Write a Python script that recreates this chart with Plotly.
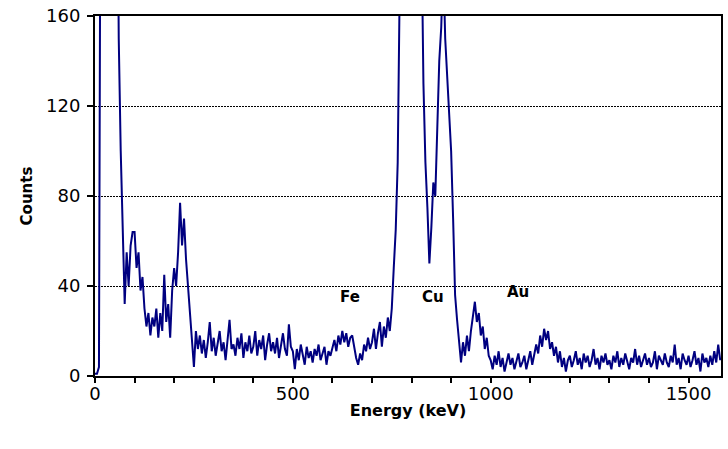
import plotly.graph_objects as go

# Energy step of the spectrum (keV per channel)
step_kev = 5

seg_0000 = [1, 1, 4, 300, 900, 1500, 1800, 1500, 1000, 600]
seg_0050 = [400, 250, 150, 100, 60, 32, 55, 40, 58, 64]
seg_0100 = [64, 48, 55, 38, 44, 30, 22, 28, 18, 26]
seg_0150 = [22, 30, 17, 28, 20, 45, 24, 32, 17, 38]
seg_0200 = [48, 40, 55, 77, 58, 70, 52, 40, 26, 18]
seg_0250 = [4, 20, 12, 18, 10, 16, 8, 15, 24, 11]
seg_0300 = [17, 9, 14, 20, 11, 15, 7, 18, 25, 12]
seg_0350 = [14, 9, 17, 12, 19, 8, 15, 11, 18, 10]
seg_0400 = [13, 20, 9, 16, 12, 18, 7, 14, 19, 11]
seg_0450 = [15, 10, 17, 8, 14, 19, 12, 9, 23, 13]
seg_0500 = [11, 3, 12, 7, 14, 9, 5, 13, 8, 11]
seg_0550 = [6, 12, 9, 14, 7, 10, 13, 5, 11, 9]
seg_0600 = [12, 16, 11, 18, 14, 20, 15, 19, 13, 17]
seg_0650 = [18, 12, 8, 5, 10, 7, 14, 11, 17, 12]
seg_0700 = [15, 21, 12, 19, 24, 13, 22, 17, 26, 20]
seg_0750 = [30, 48, 65, 95, 130, 250, 500, 900, 1200, 1400]
seg_0800 = [1500, 1300, 1000, 600, 350, 200, 130, 95, 75, 50]
seg_0850 = [66, 86, 80, 112, 140, 155, 185, 150, 132, 116]
seg_0900 = [100, 70, 36, 25, 14, 6, 15, 9, 18, 11]
seg_0950 = [20, 26, 33, 24, 28, 18, 22, 12, 17, 9]
seg_1000 = [7, 3, 9, 5, 11, 4, 8, 2, 6, 10]
seg_1050 = [5, 8, 3, 7, 10, 4, 6, 9, 3, 7]
seg_1100 = [11, 5, 9, 14, 10, 18, 13, 21, 16, 20]
seg_1150 = [12, 15, 9, 13, 6, 11, 4, 8, 2, 7]
seg_1200 = [9, 4, 7, 11, 5, 8, 3, 10, 6, 9]
seg_1250 = [4, 7, 12, 5, 8, 3, 9, 6, 10, 5]
seg_1300 = [7, 3, 9, 6, 11, 4, 8, 5, 10, 6]
seg_1350 = [3, 8, 6, 12, 5, 9, 4, 7, 10, 5]
seg_1400 = [8, 4, 6, 11, 3, 9, 7, 5, 10, 6]
seg_1450 = [4, 9, 6, 14, 5, 8, 3, 10, 7, 5]
seg_1500 = [9, 4, 7, 11, 5, 8, 2, 10, 6, 8]
seg_1550 = [4, 9, 5, 11, 6, 14, 7]

counts = (seg_0000 + seg_0050 + seg_0100 + seg_0150 + seg_0200 + seg_0250 +
          seg_0300 + seg_0350 + seg_0400 + seg_0450 + seg_0500 + seg_0550 +
          seg_0600 + seg_0650 + seg_0700 + seg_0750 + seg_0800 + seg_0850 +
          seg_0900 + seg_0950 + seg_1000 + seg_1050 + seg_1100 + seg_1150 +
          seg_1200 + seg_1250 + seg_1300 + seg_1350 + seg_1400 + seg_1450 +
          seg_1500 + seg_1550)
energy = [i * step_kev for i in range(len(counts))]

label_text = ["Fe", "Cu", "Au"]
label_x = [644, 853, 1070]
label_y = [35, 35, 37.5]

y_ticks = [0, 40, 80, 120, 160]
x_ticks = [0, 500, 1000, 1500]

FONT = "DejaVu Sans, Verdana, sans-serif"

fig = go.Figure()
fig.add_trace(go.Scatter(
    x=energy, y=counts, mode="lines",
    line=dict(color="#000080", width=2),
    showlegend=False,
))

for t, x, y in zip(label_text, label_x, label_y):
    fig.add_annotation(x=x, y=y, xref="x", yref="y", text="<b>%s</b>" % t,
                       showarrow=False, font=dict(family=FONT, size=15, color="black"))

fig.update_layout(
    width=728, height=449,
    margin=dict(l=95, r=5, t=13, b=73),
    paper_bgcolor="white", plot_bgcolor="white",
    font=dict(family=FONT, color="black"),
)
fig.update_xaxes(
    range=[0, 1582], tickvals=x_ticks, ticks="outside", ticklen=5, tickwidth=2,
    tickcolor="black", tickfont=dict(size=18, family=FONT), ticklabelstandoff=-5,
    showline=True, linecolor="black", linewidth=2, mirror=True,
    showgrid=False, zeroline=False,
    minor=dict(dtick=100, tick0=0, ticks="outside", ticklen=5, tickwidth=2, tickcolor="black", showgrid=False),
    title=dict(text="<b>Energy (keV)</b>", font=dict(size=16, family=FONT), standoff=2),
)
fig.update_yaxes(
    range=[0, 160], tickvals=y_ticks, ticks="outside", ticklen=6, tickwidth=2,
    tickcolor="black", tickfont=dict(size=18, family=FONT), ticklabelstandoff=3,
    showline=True, linecolor="black", linewidth=2, mirror=True,
    showgrid=True, gridcolor="black", gridwidth=1.2, griddash="2px,1px",
    zeroline=False,
    title=dict(text="<b>Counts</b>", font=dict(size=15, family=FONT), standoff=10),
)

fig.write_html("out.html")
